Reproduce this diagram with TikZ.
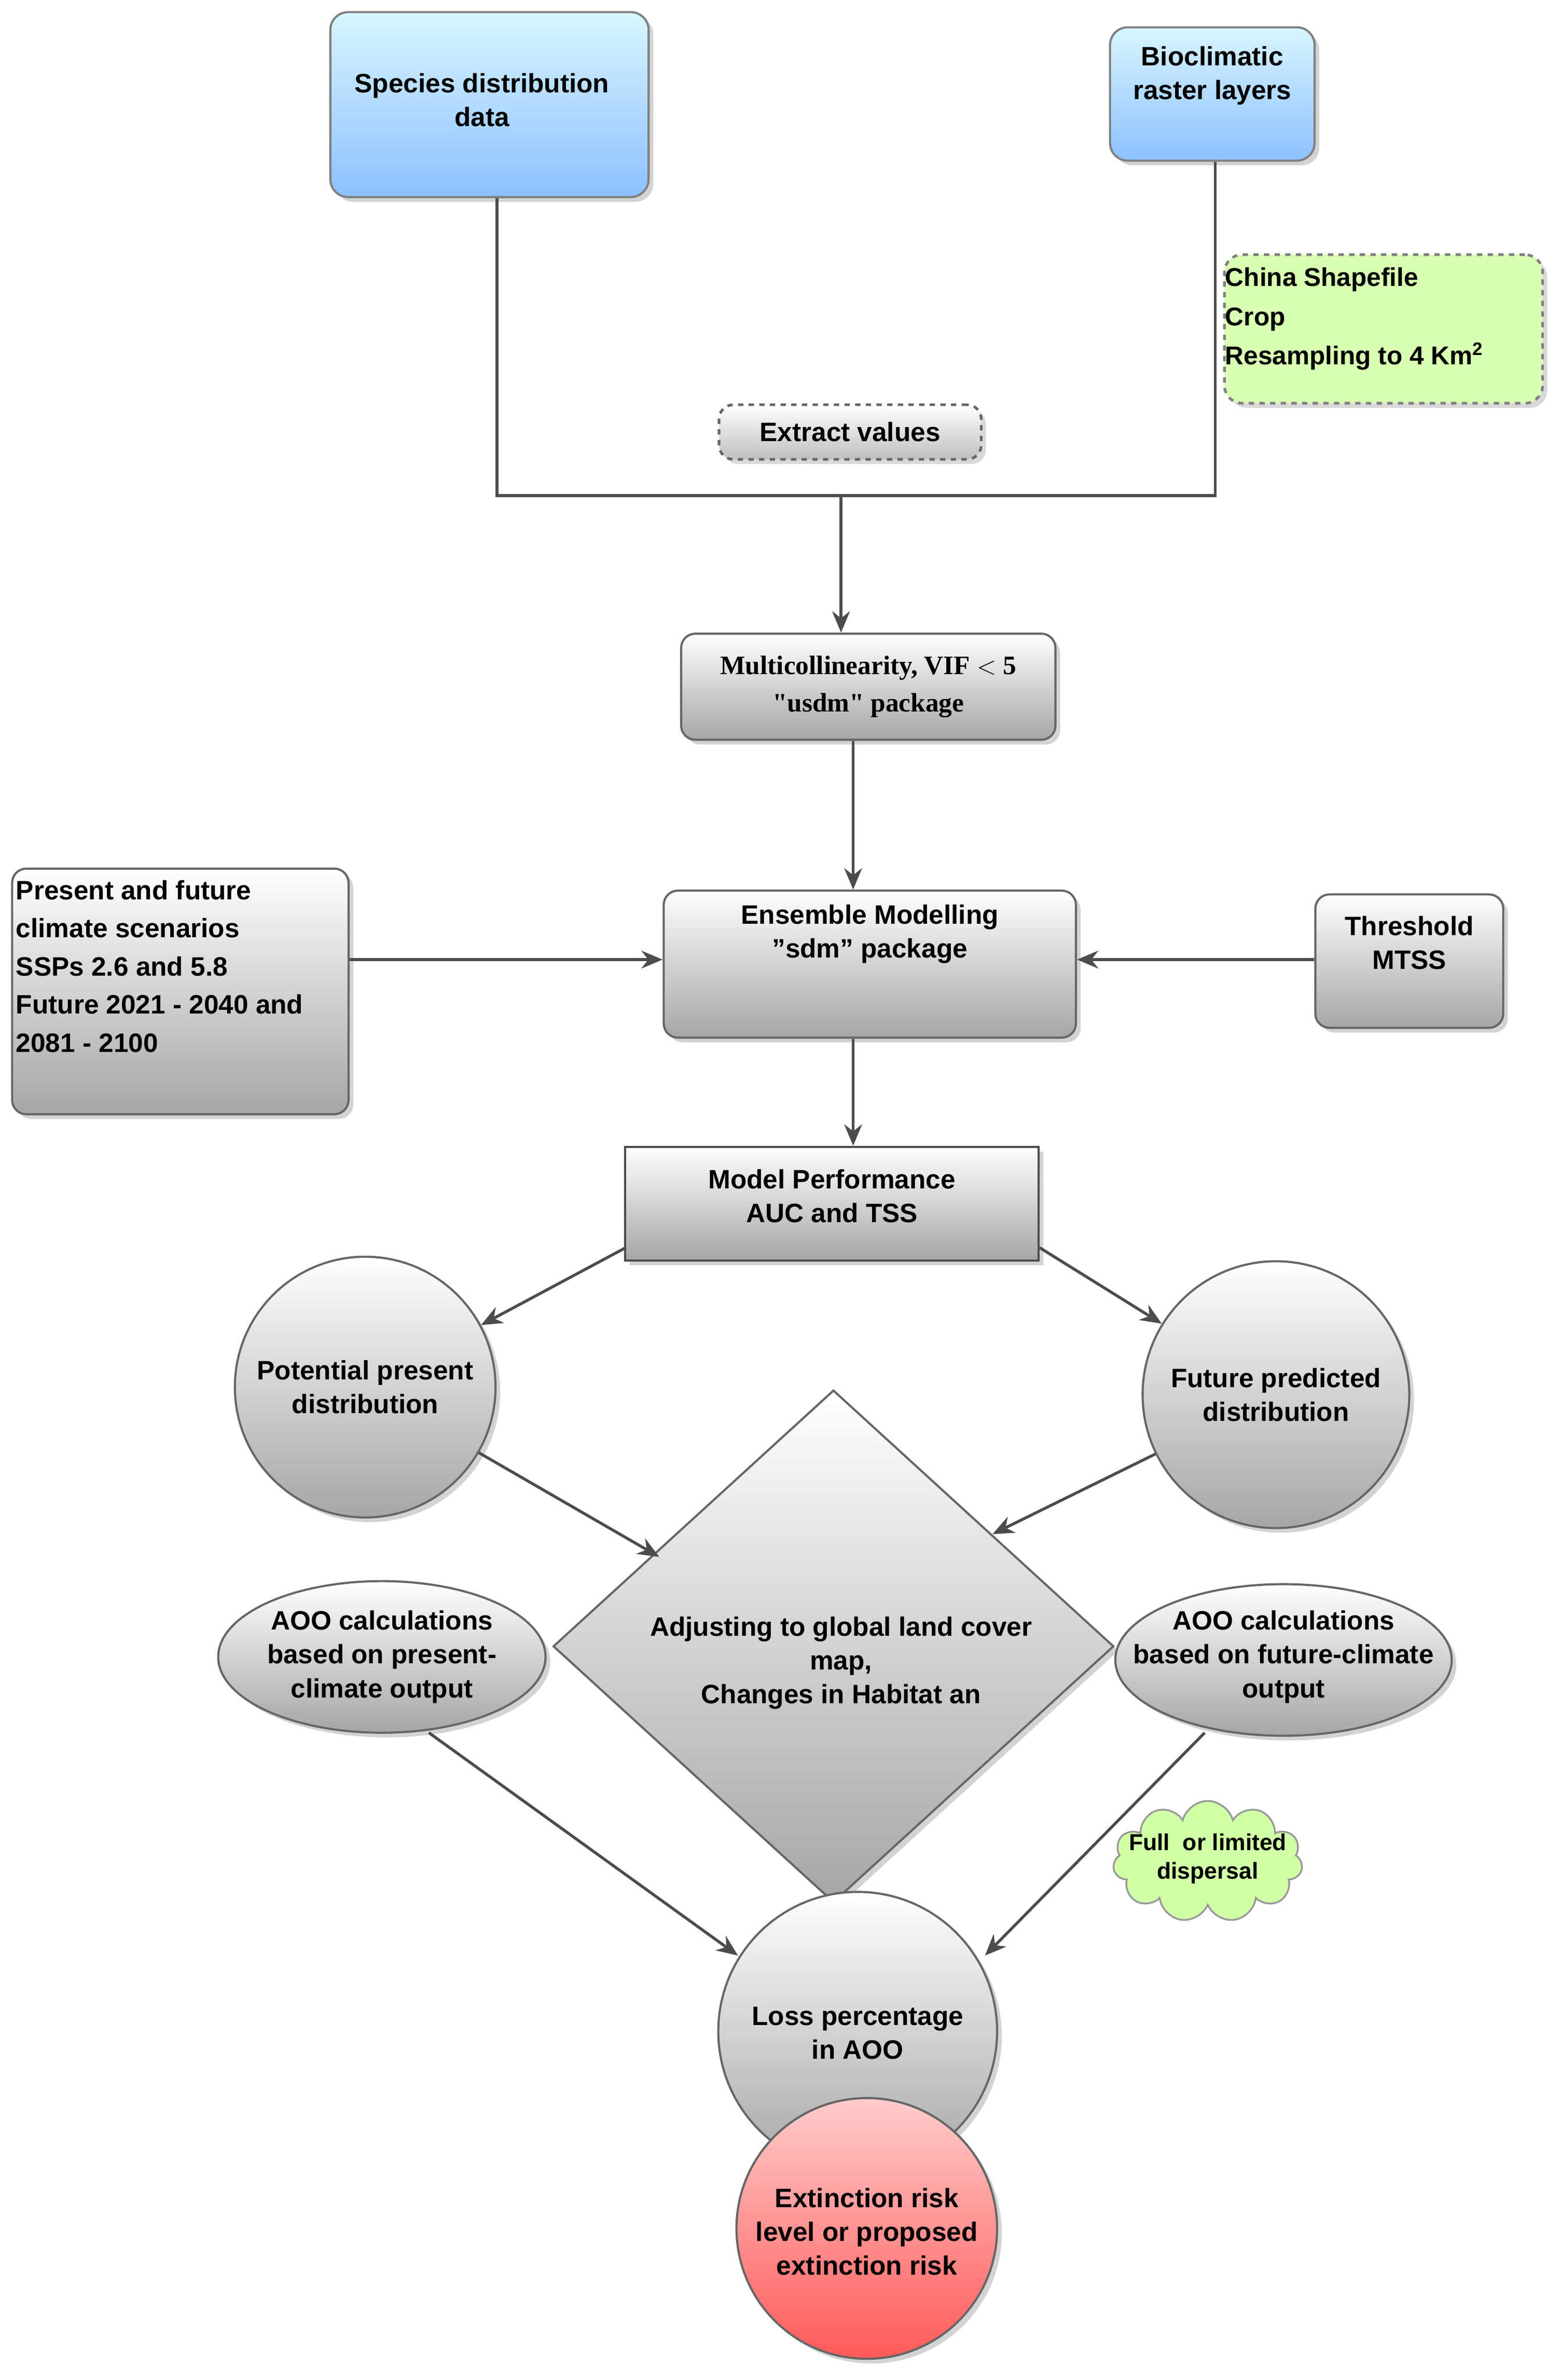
\documentclass[tikz,border=0pt]{standalone}
\usepackage{fontspec}
\setmainfont{Liberation Sans}
\newfontfamily\serifb{Liberation Serif}
\usetikzlibrary{shapes.geometric,shapes.symbols,shadows,arrows.meta}
\begin{document}
\begin{tikzpicture}[x=0.03cm,y=-0.03cm,
  every node/.style={font=\fontsize{15}{19}\selectfont\bfseries,align=center,inner sep=2pt},
  gbox/.style={draw=black!60,line width=1.2pt,rounded corners=8pt,top color=white,bottom color=black!35,drop shadow={opacity=0.35}},
  bbox/.style={draw=black!50,line width=1.2pt,rounded corners=10pt,top color=blue!25!cyan!15,bottom color=blue!55!cyan!45,drop shadow={opacity=0.35}},
  gcirc/.style={circle,draw=black!60,line width=1.2pt,top color=white,bottom color=black!35,drop shadow={opacity=0.35}},
  arr/.style={draw=black!70,line width=1.6pt,-{Stealth[length=12pt,width=10pt]}},
  ln/.style={draw=black!70,line width=1.6pt}]
\useasboundingbox (0,0) rectangle (1030,1570);
\node[bbox,minimum width=210*0.03cm,minimum height=122*0.03cm] (sp) at (323,69) {};
\node at (318,66) {Species distribution\\data};
\node[bbox,minimum width=135*0.03cm,minimum height=88*0.03cm] (bio) at (800,62) {};
\node at (800,50) {Bioclimatic\\raster layers};
\node[draw=black!50,dashed,line width=1.5pt,rounded corners=10pt,fill=green!35!lime!30,minimum width=210*0.03cm,minimum height=98*0.03cm,drop shadow={opacity=0.3}] (china) at (913,217) {};
\node[anchor=north west,align=left,font=\fontsize{14.5}{22}\selectfont\bfseries] (chinat) at (806,174) {China Shapefile\\Crop\\Resampling to 4 Km$^{\mathbf 2}$};
\node[draw=black!60,dashed,line width=1.5pt,rounded corners=8pt,top color=white,bottom color=black!25,minimum width=173*0.03cm,minimum height=36*0.03cm,drop shadow={opacity=0.3}] (ext) at (561,285) {Extract values};
\coordinate (j1) at (328,327); \coordinate (j2) at (802,327); \coordinate (jm) at (555,327);
\draw[ln] (sp.south -| j1) -- (j1) -- (j2) -- (bio.south -| j2);
\node[gbox,minimum width=247*0.03cm,minimum height=70*0.03cm,font=\serifb\fontsize{15}{21}\selectfont\bfseries] (mc) at (573,453) {Multicollinearity, VIF $<$ 5\\"usdm" package};
\draw[arr] (jm) -- (mc.north -| jm);
\node[gbox,minimum width=272*0.03cm,minimum height=97*0.03cm] (ens) at (574,636) {};
\node at (574,616) {Ensemble Modelling\\\symbol{34}sdm\symbol{34} package};
\draw[arr] (mc.south -| 563,0) -- (ens.north -| 563,0);
\node[gbox,minimum width=222*0.03cm,minimum height=162*0.03cm] (pr) at (119,654) {};
\node[anchor=north west,align=left,font=\fontsize{15}{21.5}\selectfont\bfseries] (prt) at (8,578) {Present and future\\climate scenarios\\ SSPs 2.6 and 5.8\\Future 2021 - 2040 and\\2081 - 2100};
\draw[arr] (pr.east |- 0,633) -- (ens.west |- 0,633);
\node[gbox,minimum width=124*0.03cm,minimum height=88*0.03cm] (th) at (930,634) {};
\node at (930,622) {Threshold\\MTSS};
\draw[arr] (th.west |- 0,633) -- (ens.east |- 0,633);
\node[draw=black!70,line width=1.2pt,top color=white,bottom color=black!35,minimum width=273*0.03cm,minimum height=75*0.03cm,drop shadow={opacity=0.35}] (mp) at (549,794) {};
\node at (549,789) {Model Performance\\AUC and TSS};
\draw[arr] (ens.south -| 563,0) -- (mp.north -| 563,0);
\node[gcirc,minimum size=172*0.03cm] (pp) at (241,915) {Potential present\\distribution};
\node[gcirc,minimum size=176*0.03cm] (fp) at (842,920) {Future predicted\\distribution};
\draw[arr] (413,823) -- (pp);
\draw[arr] (686,823) -- (fp);
\node[diamond,draw=black!60,line width=1.2pt,top color=white,bottom color=black!35,minimum width=370*0.03cm,minimum height=338*0.03cm,inner sep=0pt,drop shadow={opacity=0.35}] (dia) at (550,1086) {};
\node at (555,1097) (dt) {Adjusting to global land cover\\map,\\Changes in Habitat an};
\draw[arr] (pp) -- (435,1027);
\draw[arr] (fp) -- (655,1012);
\node[ellipse,draw=black!60,line width=1.2pt,top color=white,bottom color=black!35,minimum width=216*0.03cm,minimum height=100*0.03cm,inner sep=0pt,drop shadow={opacity=0.35}] (ap) at (252,1093) {};
\node at (252,1093) {AOO calculations\\based on present-\\climate output};
\node[ellipse,draw=black!60,line width=1.2pt,top color=white,bottom color=black!35,minimum width=222*0.03cm,minimum height=100*0.03cm,inner sep=0pt,drop shadow={opacity=0.35}] (af) at (847,1095) {};
\node at (847,1093) {AOO calculations\\based on future-climate\\output};
\node[gcirc,minimum size=184*0.03cm] (loss) at (566,1340) {};
\node at (566,1341) {Loss percentage\\in AOO};
\node[circle,draw=black!60,line width=1.2pt,top color=red!20,bottom color=red!65,minimum size=172*0.03cm,drop shadow={opacity=0.35}] (ext2) at (572,1470) {};
\node at (572,1472) {Extinction risk\\level or proposed\\extinction risk};
\draw[arr] (283,1143) -- (487,1290);
\draw[arr] (795,1143) -- (650,1290);
\node[cloud,cloud puffs=11,aspect=1.8,draw=black!40,line width=1pt,fill=green!35!lime!35,minimum width=125*0.03cm,minimum height=80*0.03cm,inner sep=0pt] (cl) at (797,1228) {};
\node[font=\fontsize{13}{16}\selectfont\bfseries] at (797,1226) {Full\ \ or limited\\dispersal};
\end{tikzpicture}
\end{document}
